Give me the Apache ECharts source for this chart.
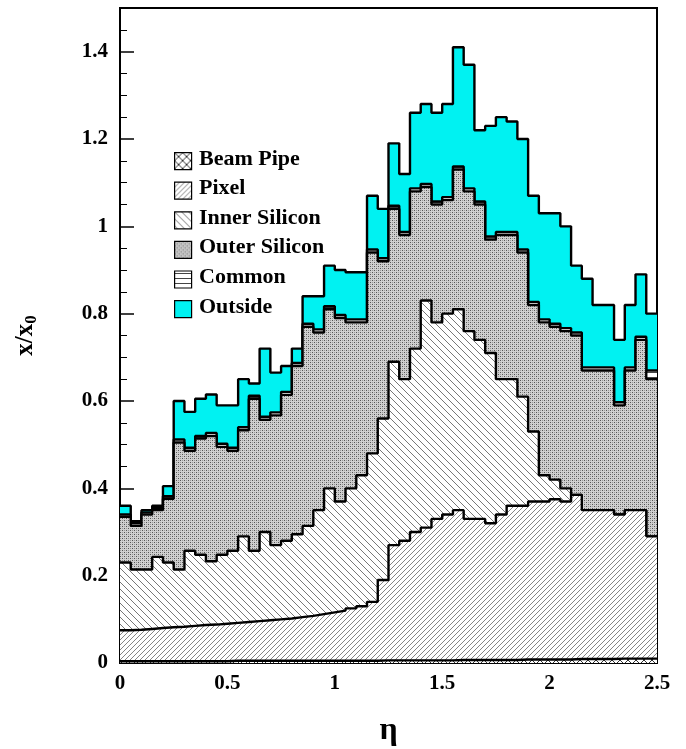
<!DOCTYPE html>
<html>
<head>
<meta charset="utf-8">
<script src="https://cdn.jsdelivr.net/npm/echarts@6/dist/echarts.min.js"></script>
<style>html,body{margin:0;padding:0;background:#fff}#main{width:686px;height:749px}</style>
</head>
<body>
<div id="main"></div>
<script>
// 50 bins in eta, width 0.05; each array is the top edge of a layer (cumulative)
var binWidth = 0.05;
var beamPipe = [0.004,0.004,0.004,0.004,0.004,0.004,0.004,0.004,0.004,0.004,0.005,0.005,0.005,0.005,0.005,0.005,0.005,0.005,0.005,0.005,0.005,0.005,0.005,0.005,0.006,0.006,0.006,0.006,0.006,0.006,0.006,0.007,0.007,0.007,0.007,0.007,0.007,0.008,0.008,0.008,0.008,0.008,0.009,0.009,0.009,0.009,0.01,0.01,0.01,0.01];
var pixel = [0.075,0.076,0.078,0.08,0.082,0.083,0.085,0.087,0.088,0.09,0.092,0.094,0.096,0.098,0.1,0.102,0.105,0.108,0.112,0.116,0.12,0.125,0.13,0.14,0.19,0.27,0.28,0.3,0.31,0.33,0.34,0.35,0.33,0.33,0.32,0.34,0.36,0.36,0.37,0.37,0.375,0.37,0.385,0.35,0.35,0.35,0.34,0.35,0.35,0.29];
var innerSi = [0.23,0.214,0.214,0.243,0.23,0.214,0.257,0.248,0.233,0.248,0.257,0.29,0.257,0.3,0.27,0.28,0.295,0.314,0.35,0.4,0.37,0.4,0.43,0.48,0.56,0.69,0.65,0.72,0.83,0.78,0.8,0.81,0.76,0.74,0.71,0.65,0.65,0.61,0.53,0.43,0.42,0.4,0.385,0.35,0.35,0.35,0.34,0.35,0.35,0.29];
var outerSi = [0.335,0.314,0.34,0.35,0.376,0.505,0.486,0.514,0.52,0.495,0.486,0.533,0.605,0.557,0.567,0.614,0.68,0.77,0.757,0.81,0.79,0.78,0.78,0.94,0.92,1.04,0.98,1.08,1.09,1.05,1.06,1.13,1.08,1.05,0.97,0.98,0.98,0.94,0.82,0.78,0.77,0.76,0.75,0.67,0.67,0.67,0.59,0.67,0.74,0.65];
var common = [0.34,0.32,0.345,0.355,0.382,0.512,0.493,0.52,0.527,0.502,0.493,0.54,0.612,0.564,0.574,0.621,0.687,0.777,0.764,0.817,0.797,0.787,0.787,0.947,0.927,1.047,0.987,1.087,1.097,1.057,1.067,1.137,1.087,1.057,0.977,0.987,0.987,0.947,0.827,0.787,0.777,0.767,0.757,0.677,0.677,0.677,0.597,0.677,0.747,0.67];
var outside = [0.36,0.325,0.35,0.36,0.405,0.6,0.575,0.605,0.615,0.59,0.59,0.65,0.64,0.72,0.665,0.68,0.72,0.84,0.84,0.91,0.9,0.895,0.895,1.07,1.04,1.19,1.12,1.26,1.28,1.26,1.28,1.41,1.37,1.22,1.23,1.25,1.24,1.2,1.07,1.03,1.03,1.0,0.91,0.88,0.82,0.82,0.74,0.82,0.89,0.8];
var legendNames = ['Beam Pipe','Pixel','Inner Silicon','Outer Silicon','Common','Outside'];

function pattern(size, draw){
    var c = document.createElement('canvas');
    c.width = size; c.height = size;
    var ctx = c.getContext('2d');
    ctx.fillStyle = '#fff';
    ctx.fillRect(0,0,size,size);
    draw(ctx, size);
    return {image: c, repeat: 'repeat'};
}
function lines(ctx, pts, col, w){
    ctx.strokeStyle = col; ctx.lineWidth = w;
    ctx.beginPath();
    for (var i=0;i<pts.length;i++){ ctx.moveTo(pts[i][0],pts[i][1]); ctx.lineTo(pts[i][2],pts[i][3]); }
    ctx.stroke();
}
var pPipe = pattern(8, function(ctx,s){ lines(ctx,[[0,0,s,s],[0,s,s,0]],'#333',1); });
var pPixel = pattern(5, function(ctx,s){ lines(ctx,[[0,s,s,0],[-1,1,1,-1],[s-1,s+1,s+1,s-1]],'#666',0.8); });
var pInner = pattern(7, function(ctx,s){ lines(ctx,[[0,0,s,s],[-1,s-1,1,s+1],[s-1,-1,s+1,1]],'#555',0.8); });
var pOuter = pattern(4, function(ctx,s){
    ctx.fillStyle = '#d0d0d0'; ctx.fillRect(0,0,s,s);
    ctx.fillStyle = '#555'; ctx.fillRect(0,0,1,1); ctx.fillRect(2,2,1,1);
    ctx.fillStyle = '#999'; ctx.fillRect(2,0,1,1); ctx.fillRect(0,2,1,1);
});
var pCommon = pattern(5, function(ctx,s){ lines(ctx,[[0,2.5,s,2.5]],'#444',1); });
var cyan = '#00f2f2';

function steps(arr){
    var d = arr.map(function(v,i){ return [+(i*binWidth).toFixed(2), v]; });
    d.push([2.5, arr[arr.length-1]]);
    return d;
}
function layer(name, arr, fill, z){
    return {
        name: name, type: 'line', step: 'end', symbol: 'none', z: z,
        data: steps(arr),
        lineStyle: {color: '#000', width: 2.4},
        areaStyle: {color: fill, opacity: 1, origin: 'start'}
    };
}

var font = '"Liberation Serif","DejaVu Serif",serif';
var fills = [pPipe, pPixel, pInner, pOuter, pCommon, cyan];
var legendGraphics = [];
legendNames.forEach(function(n,i){
    var y = 152 + i*29.6;
    legendGraphics.push({type:'rect', left:174, top:y, shape:{width:17,height:17}, style:{fill:fills[i], stroke:'#000', lineWidth:1.2}, z:100});
    legendGraphics.push({type:'text', left:199, top:y-4, style:{text:n, font:'bold 22px '+font, fill:'#000'}, z:100});
});

var myecharts = echarts.init(document.getElementById('main'), null, {renderer:'canvas'});
var option = {
    animation: false,
    grid: {left:120, right:29, top:8, bottom:86, outerBoundsMode:'none', containLabel:false, show:true, borderColor:'#000', borderWidth:2, backgroundColor:'transparent'},
    xAxis: {
        type:'value', min:0, max:2.5, interval:0.5,
        name:'η', nameLocation:'middle', nameGap:52,
        nameTextStyle:{fontFamily:font, fontWeight:'bold', fontSize:32, color:'#000'},
        axisLine:{lineStyle:{color:'#000', width:2}},
        axisTick:{inside:true, length:12, lineStyle:{color:'#000', width:1.5}},
        minorTick:{show:true, splitNumber:5, length:6, lineStyle:{color:'#000'}},
        splitLine:{show:false},
        axisLabel:{fontFamily:font, fontWeight:'bold', fontSize:21, color:'#000', margin:10}
    },
    yAxis: {
        type:'value', min:0, max:1.5, interval:0.2,
        name:'x/x{s|0}', nameLocation:'middle', nameGap:80, nameRotate:90,
        nameTextStyle:{fontFamily:font, fontWeight:'bold', fontSize:25, color:'#000',
            rich:{s:{fontFamily:font, fontWeight:'bold', fontSize:17, color:'#000', verticalAlign:'bottom', padding:[12,0,0,0]}}},
        axisLine:{lineStyle:{color:'#000', width:2}},
        axisTick:{inside:true, length:14, lineStyle:{color:'#000', width:1.5}},
        minorTick:{show:true, splitNumber:4, length:7, lineStyle:{color:'#000'}},
        splitLine:{show:false},
        axisLabel:{fontFamily:font, fontWeight:'bold', fontSize:21, color:'#000', margin:12,
            formatter:function(v){ return v > 1.45 ? '' : String(+v.toFixed(1)); }}
    },
    series: [
        layer('Outside', outside, cyan, 2),
        layer('Common', common, pCommon, 3),
        layer('Outer Silicon', outerSi, pOuter, 4),
        layer('Inner Silicon', innerSi, pInner, 5),
        layer('Pixel', pixel, pPixel, 6),
        layer('Beam Pipe', beamPipe, pPipe, 7)
    ],
    graphic: legendGraphics
};
myecharts.setOption(option);
</script>
</body>
</html>
